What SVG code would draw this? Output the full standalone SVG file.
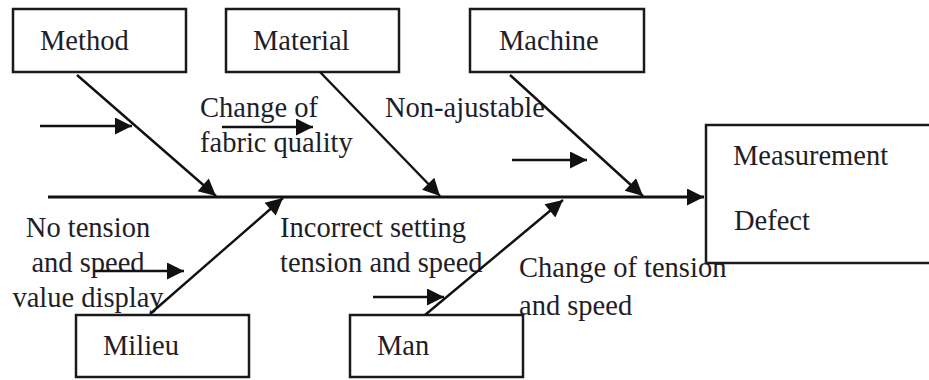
<svg xmlns="http://www.w3.org/2000/svg" width="929" height="380" viewBox="0 0 929 380">
  <style>
    .box { fill: #fff; stroke: #1a1a1a; stroke-width: 2.5; }
    .lbl { font-family: "Liberation Serif", "Times New Roman", serif; font-size: 28.5px; fill: #1e1e28; }
    .bone { stroke: #111; stroke-width: 2.4; fill: none; }
    .spine { stroke: #111; stroke-width: 3.2; fill: none; }
  </style>
  <defs>
    <marker id="head" viewBox="0 0 10 10" refX="10" refY="5" markerUnits="userSpaceOnUse" markerWidth="20" markerHeight="17" orient="auto">
      <path d="M0,0 L10,5 L0,10 Z" fill="#111"/>
    </marker>
  </defs>

  <rect width="929" height="380" fill="#fff"/>

  <!-- cause categories -->
  <g id="method">
    <rect class="box" x="13" y="9" width="173" height="63"/>
    <text class="lbl" x="40" y="50">Method</text>
  </g>
  <g id="material">
    <rect class="box" x="226" y="9" width="173" height="63"/>
    <text class="lbl" x="253" y="50">Material</text>
  </g>
  <g id="machine">
    <rect class="box" x="470" y="9" width="174" height="63"/>
    <text class="lbl" x="499" y="50">Machine</text>
  </g>
  <g id="milieu">
    <rect class="box" x="76" y="315" width="173" height="62"/>
    <text class="lbl" x="103" y="355">Milieu</text>
  </g>
  <g id="man">
    <rect class="box" x="350" y="315" width="173" height="62"/>
    <text class="lbl" x="377" y="355">Man</text>
  </g>

  <!-- effect -->
  <g id="effect">
    <rect class="box" x="706" y="125" width="240" height="138"/>
    <text class="lbl" x="733" y="165">Measurement</text>
    <text class="lbl" x="734" y="230">Defect</text>
  </g>

  <!-- sub-causes -->
  <g id="causes">
    <text class="lbl" x="200" y="117">Change of</text>
    <text class="lbl" x="200" y="152">fabric quality</text>
    <text class="lbl" x="385" y="117">Non-ajustable</text>
    <text class="lbl" x="88" y="237" text-anchor="middle">No tension</text>
    <text class="lbl" x="88" y="272" text-anchor="middle">and speed</text>
    <text class="lbl" x="88" y="307" text-anchor="middle">value display</text>
    <text class="lbl" x="280" y="237">Incorrect setting</text>
    <text class="lbl" x="280" y="272">tension and speed</text>
    <text class="lbl" x="519" y="277">Change of tension</text>
    <text class="lbl" x="519" y="315">and speed</text>
  </g>

  <!-- connectors -->
  <g id="connectors">
    <line class="spine" x1="48" y1="197" x2="704" y2="197" marker-end="url(#head)"/>
    <line class="bone" x1="77" y1="75" x2="216" y2="196" marker-end="url(#head)"/>
    <line class="bone" x1="320" y1="72" x2="440" y2="196" marker-end="url(#head)"/>
    <line class="bone" x1="510" y1="75" x2="643" y2="196" marker-end="url(#head)"/>
    <line class="bone" x1="150" y1="314" x2="283" y2="198" marker-end="url(#head)"/>
    <line class="bone" x1="425" y1="315" x2="563" y2="200" marker-end="url(#head)"/>
    <line class="bone" x1="40" y1="126" x2="132" y2="126" marker-end="url(#head)"/>
    <line class="bone" x1="222" y1="127" x2="313" y2="127" marker-end="url(#head)"/>
    <line class="bone" x1="512" y1="160" x2="587" y2="160" marker-end="url(#head)"/>
    <line class="bone" x1="95" y1="271" x2="184" y2="271" marker-end="url(#head)"/>
    <line class="bone" x1="373" y1="297" x2="444" y2="297" marker-end="url(#head)"/>
  </g>
</svg>
